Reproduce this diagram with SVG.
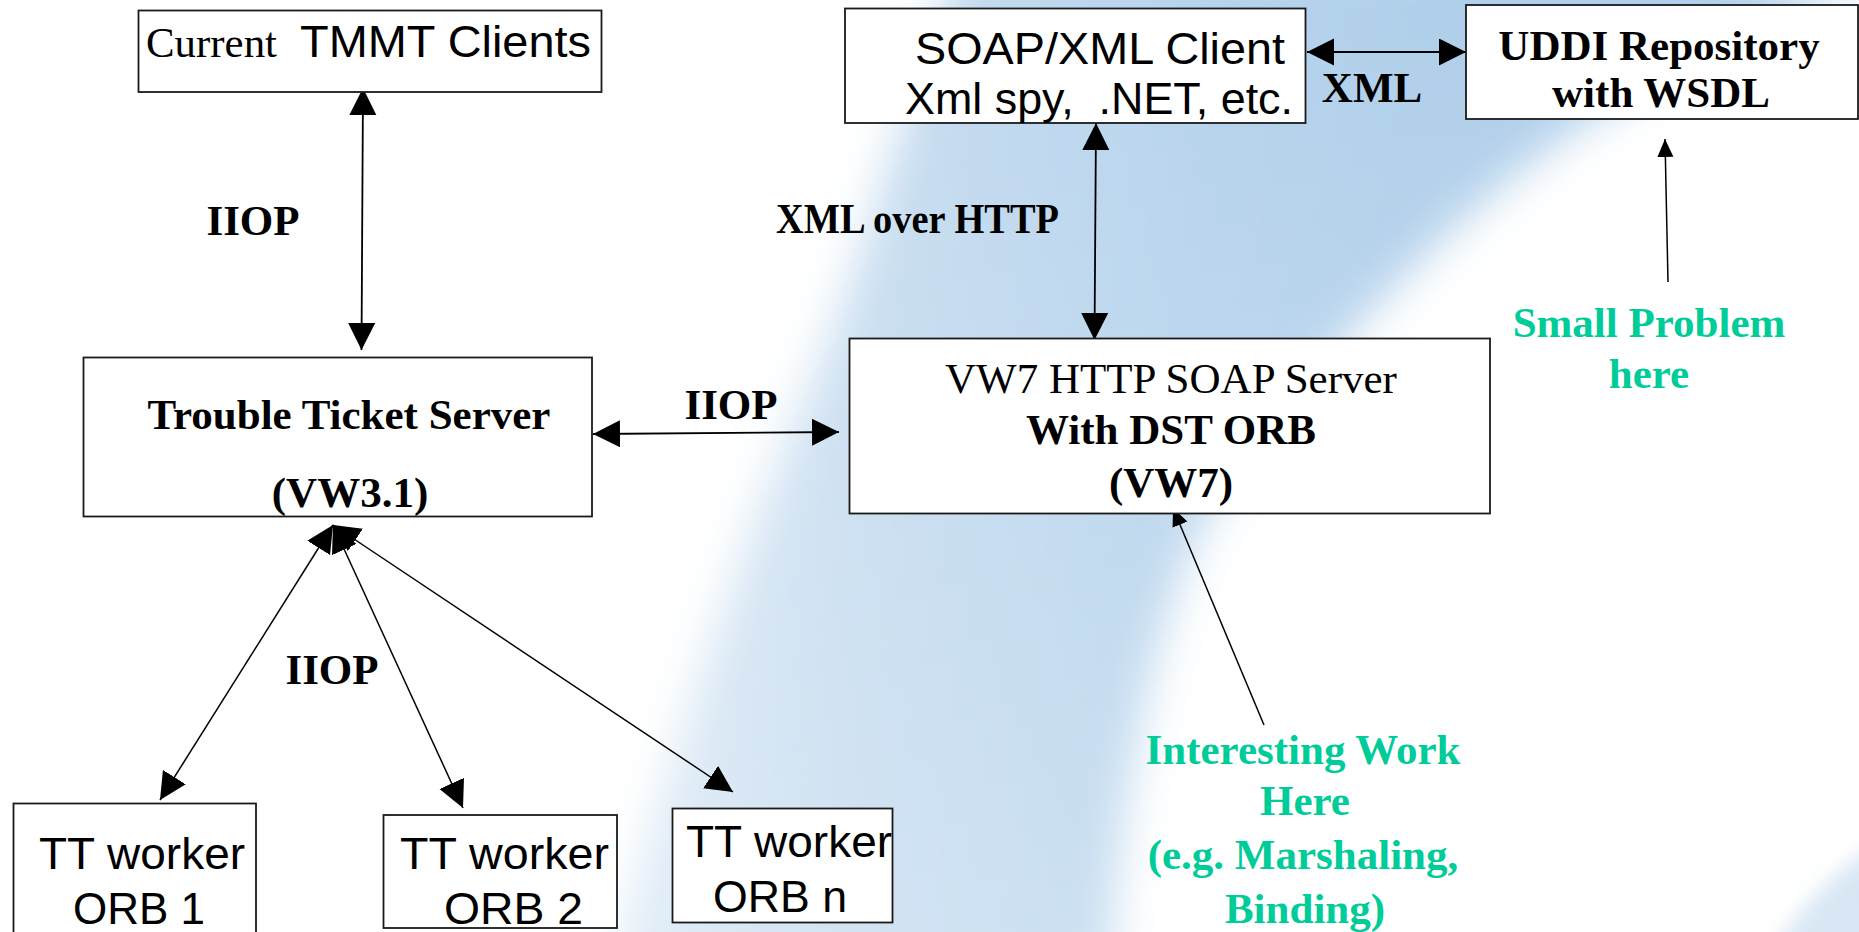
<svg xmlns="http://www.w3.org/2000/svg" width="1859" height="932" viewBox="0 0 1859 932">
<defs>
<style>
.box{fill:#fff;stroke:#1a1a1a;stroke-width:1.8}
.ln{fill:none;stroke:#000;stroke-width:1.8}
.lt{fill:none;stroke:#000;stroke-width:1.5}
.tb{font-family:"Liberation Serif","Times New Roman",serif;font-weight:bold;font-size:43px;fill:#000}
.tr{font-family:"Liberation Serif","Times New Roman",serif;font-size:43px;fill:#000}
.ar{font-family:"Liberation Sans",Arial,sans-serif;font-size:45px;fill:#000}
.g{fill:#00CC99}
.mid{text-anchor:middle}
</style>
<marker id="ah" markerUnits="userSpaceOnUse" viewBox="0 0 28 28" markerWidth="28" markerHeight="28" refX="27" refY="13.5" orient="auto-start-reverse"><path d="M0,0 L27,13.5 L0,27 Z" fill="#000"/></marker>
<marker id="as" markerUnits="userSpaceOnUse" viewBox="0 0 19 17" markerWidth="19" markerHeight="17" refX="18" refY="8" orient="auto-start-reverse"><path d="M0,0 L18,8 L0,16 Z" fill="#000"/></marker>
<linearGradient id="bandG" gradientUnits="userSpaceOnUse" x1="650" y1="300" x2="1350" y2="420">
<stop offset="0" stop-color="#e2edf7"/>
<stop offset="0.35" stop-color="#c3daef"/>
<stop offset="0.7" stop-color="#b6d3ec"/>
<stop offset="1" stop-color="#b0cfea"/>
</linearGradient>
<linearGradient id="fadeG" x1="0" y1="0" x2="0" y2="1">
<stop offset="0" stop-color="#fff" stop-opacity="0"/>
<stop offset="1" stop-color="#fff" stop-opacity="0.3"/>
</linearGradient>
<filter id="soft" x="-20%" y="-20%" width="140%" height="140%"><feGaussianBlur stdDeviation="22"/></filter>
<filter id="soft2" x="-50%" y="-50%" width="200%" height="200%"><feGaussianBlur stdDeviation="10"/></filter>
</defs>

<g id="background">
<rect x="0" y="0" width="1859" height="932" fill="#fff"/>
<path d="M960,-40 C900,120 860,260 820,360 C760,500 680,700 610,980 L1110,980 C1120,800 1150,640 1200,530 C1270,420 1400,260 1560,140 C1660,70 1780,10 1900,-40 Z" fill="url(#bandG)" filter="url(#soft)"/>
<path d="M1900,830 C1850,860 1800,900 1770,960 L1900,960 Z" fill="#c9ddf0" filter="url(#soft2)"/>
<rect x="0" y="0" width="1859" height="932" fill="url(#fadeG)"/>
</g>

<g id="connectors">
<line class="ln" x1="363" y1="88" x2="361.5" y2="350" marker-start="url(#ah)" marker-end="url(#ah)"/>
<line class="ln" x1="593" y1="434" x2="839" y2="432" marker-start="url(#ah)" marker-end="url(#ah)"/>
<line class="ln" x1="1096" y1="123" x2="1094.5" y2="340" marker-start="url(#ah)" marker-end="url(#ah)"/>
<line class="ln" x1="1307" y1="52" x2="1466" y2="52" marker-start="url(#ah)" marker-end="url(#ah)"/>
<line class="lt" x1="1668" y1="282" x2="1665" y2="139" marker-end="url(#as)"/>
<line class="lt" x1="1264" y1="725" x2="1173" y2="508" marker-end="url(#as)"/>
<line class="lt" x1="333" y1="525" x2="160" y2="800" marker-start="url(#ah)" marker-end="url(#ah)"/>
<line class="lt" x1="333" y1="525" x2="463" y2="808" marker-start="url(#ah)" marker-end="url(#ah)"/>
<line class="lt" x1="333" y1="525" x2="733" y2="792" marker-start="url(#ah)" marker-end="url(#ah)"/>
</g>

<g id="labels">
<text class="tb mid" x="253" y="235">IIOP</text>
<text class="tb mid" x="731" y="419">IIOP</text>
<text class="tb mid" x="332" y="684" font-size="42">IIOP</text>
<text class="tb mid" x="1372" y="102">XML</text>
<text class="tb" x="776" y="233" font-size="39" textLength="283" lengthAdjust="spacingAndGlyphs">XML over HTTP</text>
</g>

<g id="tmmt-clients">
<rect class="box" x="138.5" y="10.5" width="463" height="81.5"/>
<text class="tr" x="146" y="57" font-size="42" textLength="131" lengthAdjust="spacingAndGlyphs">Current</text>
<text class="ar" x="300" y="57" font-size="37" textLength="291" lengthAdjust="spacingAndGlyphs">TMMT Clients</text>
</g>

<g id="soap-client">
<rect class="box" x="845" y="8.5" width="460.5" height="114.5"/>
<text class="ar" x="915" y="64" font-size="43" textLength="370" lengthAdjust="spacingAndGlyphs">SOAP/XML Client</text>
<text class="ar" x="905" y="114" font-size="43" textLength="388" lengthAdjust="spacingAndGlyphs" xml:space="preserve">Xml spy,  .NET, etc.</text>
</g>

<g id="uddi">
<rect class="box" x="1466" y="5" width="392" height="114"/>
<text class="tb mid" x="1659" y="60">UDDI Repository</text>
<text class="tb mid" x="1661" y="107">with WSDL</text>
</g>

<g id="tt-server">
<rect class="box" x="83.5" y="357.5" width="508.5" height="159"/>
<text class="tb mid" x="349" y="429" font-size="42.5">Trouble Ticket Server</text>
<text class="tb mid" x="350" y="507">(VW3.1)</text>
</g>

<g id="vw7-server">
<rect class="box" x="849.5" y="338.5" width="640.5" height="175"/>
<text class="tr mid" x="1171" y="393">VW7 HTTP SOAP Server</text>
<text class="tb mid" x="1171" y="444">With DST ORB</text>
<text class="tb mid" x="1171" y="497">(VW7)</text>
</g>

<g id="worker-1">
<rect class="box" x="13.5" y="803.5" width="242.5" height="140"/>
<text class="ar" x="39" y="869" textLength="206" lengthAdjust="spacingAndGlyphs">TT worker</text>
<text class="ar" x="73" y="924" textLength="132" lengthAdjust="spacingAndGlyphs">ORB 1</text>
</g>

<g id="worker-2">
<rect class="box" x="383.5" y="815" width="233.5" height="113"/>
<text class="ar" x="400" y="869" textLength="209" lengthAdjust="spacingAndGlyphs">TT worker</text>
<text class="ar" x="444" y="924" textLength="139" lengthAdjust="spacingAndGlyphs">ORB 2</text>
</g>

<g id="worker-n">
<rect class="box" x="672.5" y="808.5" width="220" height="114"/>
<text class="ar" x="686" y="857" textLength="206" lengthAdjust="spacingAndGlyphs">TT worker</text>
<text class="ar" x="713" y="912" textLength="134" lengthAdjust="spacingAndGlyphs">ORB n</text>
</g>

<g id="note-small-problem">
<text class="tb g mid" x="1649" y="337">Small Problem</text>
<text class="tb g mid" x="1649" y="388">here</text>
</g>

<g id="note-interesting-work">
<text class="tb g mid" x="1303" y="764">Interesting Work</text>
<text class="tb g mid" x="1305" y="815">Here</text>
<text class="tb g mid" x="1303" y="869">(e.g. Marshaling,</text>
<text class="tb g mid" x="1305" y="923">Binding)</text>
</g>
</svg>
